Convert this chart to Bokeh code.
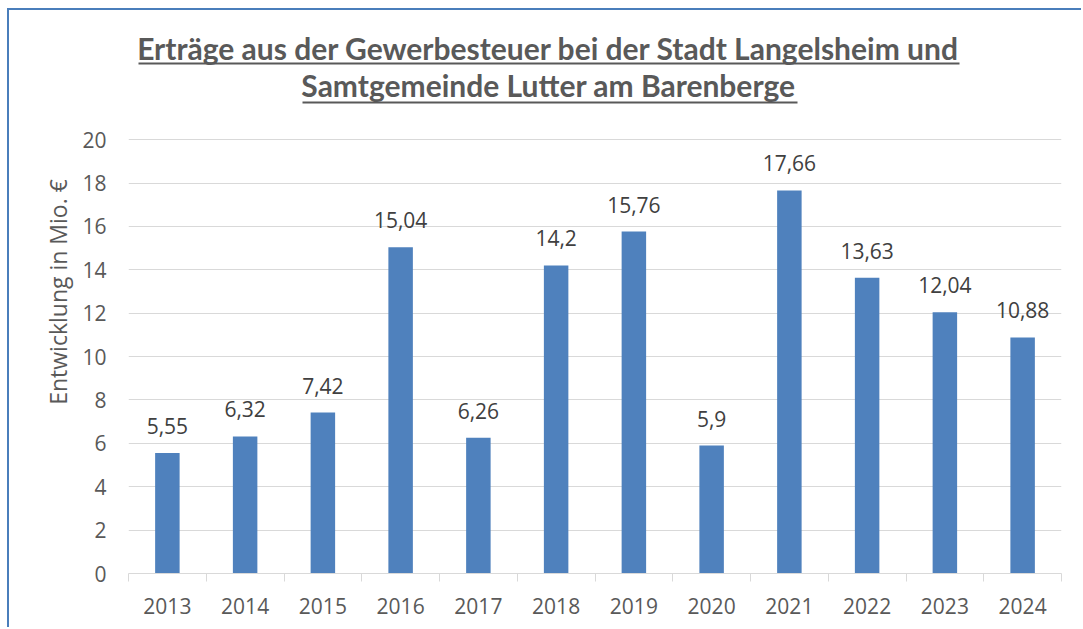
from bokeh.plotting import figure
from bokeh.models import FixedTicker, Label, BoxAnnotation, Range1d
from bokeh.core.properties import value
from bokeh.embed import file_html
from bokeh.resources import INLINE

# ---- data ----
years = ["2013", "2014", "2015", "2016", "2017", "2018",
         "2019", "2020", "2021", "2022", "2023", "2024"]
values = [5.55, 6.32, 7.42, 15.04, 6.26, 14.2, 15.76, 5.9, 17.66, 13.63, 12.04, 10.88]
value_labels = [f"{v:g}".replace(".", ",") for v in values]
y_ticks = [0, 2, 4, 6, 8, 10, 12, 14, 16, 18, 20]
title_lines = ["Erträge aus der Gewerbesteuer bei der Stadt Langelsheim und",
               "Samtgemeinde Lutter am Barenberge"]
y_label = "Entwicklung in Mio. €"

FONT = "Open Sans"
TITLE_FONT = "Lato"
GRAY = "#595959"
GRID = "#d9d9d9"
BAR = "#4f81bd"
BORDER = "#4a7ebb"

n = len(years)
centers = [i + 0.5 for i in range(n)]
y_max = y_ticks[-1]

# ---- layout geometry (canvas pixels) ----
OX, OY = 9, 10                  # canvas origin on the page (after css border)
W, H = 1074, 619
F_LEFT, F_RIGHT = 128 - OX, 1061 - OX
F_BOTTOM = 572.5 - OY           # y = 0
Y_TOP_PX = 139 - OY             # y = y_max
px_per_unit = (F_BOTTOM - Y_TOP_PX) / y_max
y_end = F_BOTTOM / px_per_unit  # frame reaches canvas top, title lives inside it
px_per_cat = (F_RIGHT - F_LEFT) / n


def dx(page_x):
    return (page_x - OX - F_LEFT) / px_per_cat


def dy(page_y):
    return (F_BOTTOM - (page_y - OY)) / px_per_unit


p = figure(width=W, height=H, output_backend="svg", toolbar_location=None,
           x_range=Range1d(0, n), y_range=Range1d(0, y_end),
           min_border_left=int(F_LEFT), min_border_right=int(W - F_RIGHT),
           min_border_top=0, min_border_bottom=int(round(H - F_BOTTOM)),
           styles={"margin-left": "7px", "margin-top": "8px",
                   "border-left": f"2px solid {BORDER}",
                   "border-top": f"2px solid {BORDER}"})
p.outline_line_color = None
p.background_fill_color = "white"
p.border_fill_color = "white"

p.vbar(x=centers, top=values, width=0.315, fill_color=BAR, line_color=None)
p.text(x=centers, y=values, text=value_labels, text_align="center",
       text_baseline="alphabetic", y_offset=-27,
       text_font=value(FONT), text_font_size="21px", text_color="#404040")

# y axis
p.yaxis.ticker = FixedTicker(ticks=y_ticks)
p.yaxis.axis_line_color = None
p.yaxis.major_tick_line_color = None
p.yaxis.major_tick_out = 0
p.yaxis.major_tick_in = 0
p.yaxis.minor_tick_line_color = None
p.yaxis.major_label_standoff = 22
p.yaxis.major_label_text_font = FONT
p.yaxis.major_label_text_font_size = "21px"
p.yaxis.major_label_text_color = GRAY
p.yaxis.axis_label = y_label
p.yaxis.axis_label_text_font = FONT
p.yaxis.axis_label_text_font_size = "23px"
p.yaxis.axis_label_text_font_style = "normal"
p.yaxis.axis_label_text_color = GRAY
p.yaxis.axis_label_standoff = 5
p.ygrid.grid_line_color = GRID
p.ygrid.grid_line_width = 1
p.xgrid.grid_line_color = None

# x axis: labels at centers, ticks at category boundaries
p.xaxis.ticker = FixedTicker(ticks=centers, minor_ticks=list(range(n + 1)))
p.xaxis.major_label_overrides = {c: y for c, y in zip(centers, years)}
p.xaxis.major_tick_line_color = None
p.xaxis.major_tick_out = 0
p.xaxis.major_tick_in = 0
p.xaxis.minor_tick_line_color = GRID
p.xaxis.minor_tick_in = 0
p.xaxis.minor_tick_out = 8
p.xaxis.axis_line_color = GRID
p.xaxis.axis_line_width = 1
p.xaxis.major_label_standoff = 16
p.xaxis.major_label_text_font = FONT
p.xaxis.major_label_text_font_size = "21px"
p.xaxis.major_label_text_color = GRAY

# title lines with underline (positions given in page pixels)
TITLE_SIZE = 30
BASE_SHIFT = 12                 # renderer puts the text this much below the anchor
title_base = [59, 96]
under = [(138, 959, 62, 64), (302, 797, 101, 103)]
for t, ty, (l, r, tp, bt) in zip(title_lines, title_base, under):
    p.add_layout(Label(x=dx(548), y=dy(ty - BASE_SHIFT), text=t,
                       text_align="center", text_baseline="alphabetic",
                       text_font=TITLE_FONT, text_font_style="bold",
                       text_font_size=f"{TITLE_SIZE}px", text_color=GRAY))
    p.add_layout(BoxAnnotation(left=dx(l), right=dx(r), top=dy(tp), bottom=dy(bt),
                               fill_color=GRAY, fill_alpha=1, line_color=None))

open("out.html", "w").write(file_html(p, INLINE))
